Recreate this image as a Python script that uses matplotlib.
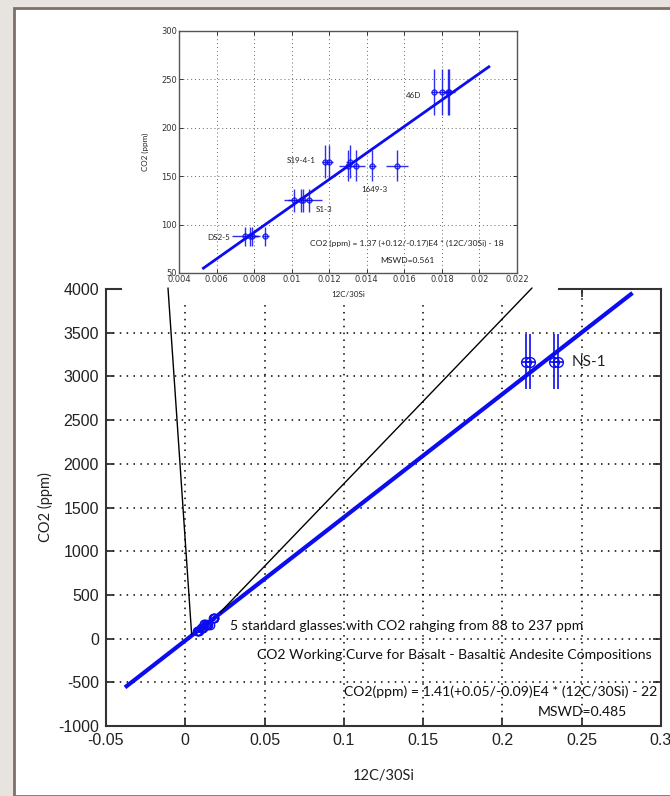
import matplotlib
matplotlib.use("Agg")
import matplotlib.pyplot as plt
from matplotlib.patches import Rectangle, ConnectionPatch
from matplotlib.ticker import FuncFormatter

# standards (inset + small cluster near origin in main panel)
std_x = [0.0075, 0.0078, 0.0079, 0.0086,
         0.0101, 0.0105, 0.0106, 0.0109,
         0.0118, 0.0120, 0.0131,
         0.0130, 0.0134, 0.0143, 0.0156,
         0.0176, 0.0180, 0.0183, 0.0184]
std_y = [88, 88, 88, 88,
         125, 125, 125, 125,
         165, 165, 165,
         161, 161, 161, 161,
         237, 237, 237, 237]
std_xerr = [0.0007, 0.0004, 0.0004, 0.0002,
            0.0003, 0.0002, 0.0010, 0.0002,
            0.0002, 0.0002, 0.0002,
            0.0005, 0.0005, 0.0002, 0.0006,
            0.0002, 0.0002, 0.0003, 0.0003]
std_yerr = [10, 10, 10, 10,
            12, 12, 12, 12,
            17, 17, 17,
            16, 16, 16, 16,
            24, 24, 24, 24]

# NS-1 high CO2 standard
ns_x = [0.2150, 0.2175, 0.2325, 0.2350]
ns_y = [3168, 3168, 3168, 3168]
ns_xerr = [0.003, 0.003, 0.003, 0.003]
ns_yerr = [313, 313, 313, 313]

# fitted working curves
fit_main_x = [-0.037, 0.281]
fit_main_y = [-544, 3940]
fit_in_x = [0.0053, 0.0205]
fit_in_y = [55, 263]

main_xticks = [-0.05, 0, 0.05, 0.1, 0.15, 0.2, 0.25, 0.3]
main_yticks = [-1000, -500, 0, 500, 1000, 1500, 2000, 2500, 3000, 3500, 4000]
in_xticks = [0.004, 0.006, 0.008, 0.01, 0.012, 0.014, 0.016, 0.018, 0.02, 0.022]
in_yticks = [50, 100, 150, 200, 250, 300]

in_labels = ["DS2-5", "S1-3", "S19-4-1", "1649-3", "46D"]
in_label_pos = [(0.0067, 87, "right"), (0.0113, 116, "left"), (0.0113, 166, "right"),
                (0.0137, 136, "left"), (0.0161, 233, "left")]

BLUE = "#0c0cf0"
W, H = 670, 796
fig = plt.figure(figsize=(W / 100, H / 100), dpi=100, facecolor="#e7e4df")

# white panel with dark edge
fig.patches.append(Rectangle((14 / W, 0), 1, 1 - 8 / H, transform=fig.transFigure,
                             facecolor="white", edgecolor="#7d7069", linewidth=2, zorder=-1))

fmt = FuncFormatter(lambda v, p: "%g" % v)
tickfont = ["Liberation Sans", "DejaVu Sans"]
txtfont = ["Lato", "DejaVu Sans"]

# ---- main axes ----
ax = fig.add_axes([106 / W, 70 / H, 555 / W, 437 / H], zorder=1)
ax.set_xlim(-0.05, 0.3)
ax.set_ylim(-1000, 4000)
ax.set_xticks(main_xticks)
ax.set_yticks(main_yticks)
ax.xaxis.set_major_formatter(fmt)
ax.yaxis.set_major_formatter(fmt)
ax.grid(True, color="black", linestyle=(0, (1, 3.5)), linewidth=1.1)
ax.tick_params(direction="in", top=True, right=True, length=6, width=1.2,
               labelsize=11.5, colors="#222222", pad=5)
for lab in ax.get_xticklabels() + ax.get_yticklabels():
    lab.set_family(tickfont)
for s in ax.spines.values():
    s.set_color("#333333")
    s.set_linewidth(1.5)

ax.plot(fit_main_x, fit_main_y, color=BLUE, lw=3, zorder=3)
ax.errorbar(std_x, std_y, xerr=std_xerr, yerr=std_yerr, fmt="o", ms=6, mfc="none",
            mec=BLUE, ecolor=BLUE, elinewidth=1, capsize=0, zorder=4)
ax.errorbar(ns_x, ns_y, xerr=ns_xerr, yerr=ns_yerr, fmt="o", ms=7, mfc="none",
            mec=BLUE, ecolor=BLUE, elinewidth=1.2, capsize=0, zorder=4)
ax.text(0.2435, 3168, "NS-1", fontsize=11, family=txtfont, va="center", color="#222222")

fs = 10.1
ax.text(230 / W, (796 - 626) / H, "5 standard glasses with CO2 ranging from 88 to 237 ppm",
        transform=fig.transFigure, fontsize=fs, family=txtfont, va="center", color="#111111")
ax.text(652 / W, (796 - 655) / H, "CO2 Working Curve for Basalt - Basaltic Andesite Compositions",
        transform=fig.transFigure, fontsize=fs, family=txtfont, va="center", ha="right",
        color="#111111")
ax.text(657 / W, (796 - 692) / H, "CO2(ppm) = 1.41(+0.05/-0.09)E4 * (12C/30Si) - 22",
        transform=fig.transFigure, fontsize=fs, family=txtfont, va="center", ha="right",
        color="#111111")
ax.text(627 / W, (796 - 712) / H, "MSWD=0.485",
        transform=fig.transFigure, fontsize=fs, family=txtfont, va="center", ha="right",
        color="#111111")
ax.set_xlabel("12C/30Si", fontsize=10.5, family=txtfont, labelpad=15, color="#222222")
ax.set_ylabel("CO2 (ppm)", fontsize=10.5, family=txtfont, labelpad=4, color="#222222")

# white backing of the inset picture (hides the top of the main frame and grid)
ax.add_patch(Rectangle((122 / W, (796 - 305) / H), (558 - 122) / W, (305 - 14) / H,
                       transform=fig.transFigure, facecolor="white", edgecolor="none",
                       clip_on=False, zorder=10))

# ---- inset axes ----
ins = fig.add_axes([179 / W, 523 / H, 338 / W, 242 / H], zorder=6)
ins.set_xlim(0.004, 0.022)
ins.set_ylim(50, 300)
ins.set_xticks(in_xticks)
ins.set_yticks(in_yticks)
ins.xaxis.set_major_formatter(fmt)
ins.yaxis.set_major_formatter(fmt)
ins.grid(True, color="#666666", linestyle=(0, (1, 3)), linewidth=0.7)
ins.tick_params(direction="in", top=True, right=True, length=3, width=0.7,
                labelsize=6, colors="#333333", pad=1.5)
for s in ins.spines.values():
    s.set_color("#555555")
    s.set_linewidth(1)
ins.plot(fit_in_x, fit_in_y, color=BLUE, lw=2, zorder=3)
ins.errorbar(std_x, std_y, xerr=std_xerr, yerr=std_yerr, fmt="o", ms=3.5, mfc="none",
             mec=BLUE, ecolor=BLUE, elinewidth=1, capsize=0, zorder=4, alpha=0.85)
for name, (lx, ly, ha) in zip(in_labels, in_label_pos):
    ins.text(lx, ly, name, fontsize=5.8, ha=ha, va="center", family=txtfont, color="#222222")
ins.text(0.0110, 81, "CO2 (ppm) = 1.37 (+0.12/-0.17)E4 * (12C/30Si) - 18", fontsize=6.1,
         va="center", family=txtfont, color="#222222")
ins.text(0.0147, 63, "MSWD=0.561", fontsize=6.1, va="center", family=txtfont, color="#222222")
ins.set_xlabel("12C/30Si", fontsize=5.8, family=txtfont, labelpad=5, color="#222222")
ins.set_ylabel("CO2 (ppm)", fontsize=5.8, family=txtfont, labelpad=9, color="#222222")

# zoom connector lines
for (dx, dy), (fx, fy) in [((0.004, 50), (168, 288)), ((0.022, 300), (532, 288))]:
    con = ConnectionPatch(xyA=(dx, dy), coordsA="data", axesA=ax,
                          xyB=(fx / W, (796 - fy) / H), coordsB="figure fraction",
                          color="black", lw=1, zorder=7)
    fig.add_artist(con)

fig.savefig("out.png", dpi=100, facecolor=fig.get_facecolor())
